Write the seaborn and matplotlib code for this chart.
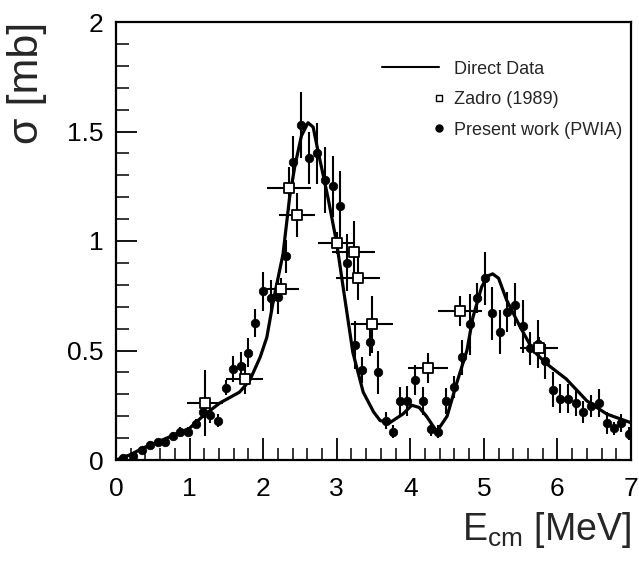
import numpy as np
import pandas as pd
import matplotlib
matplotlib.use("Agg")
import matplotlib.pyplot as plt
import seaborn as sns
from matplotlib.legend_handler import HandlerLine2DCompound
from matplotlib.lines import Line2D
from matplotlib.ticker import MultipleLocator, FuncFormatter

# ---- Data ----
direct_x = [0.0, 0.2, 0.37, 0.69, 1.0, 1.18, 1.41, 1.68, 1.82, 1.96, 2.05, 2.14, 2.27, 2.36, 2.43,
            2.52, 2.61, 2.68, 2.74, 2.88, 3.0, 3.1, 3.22, 3.36, 3.5, 3.59, 3.72, 3.9, 4.02, 4.12,
            4.22, 4.36, 4.5, 4.63, 4.77, 4.85, 4.97, 5.05, 5.12, 5.2, 5.31, 5.49, 5.67, 5.85,
            6.12, 6.4, 6.67, 7.0]
direct_y = [0.0, 0.025, 0.055, 0.10, 0.145, 0.20, 0.26, 0.31, 0.365, 0.47, 0.56, 0.73, 0.94, 1.20, 1.34,
            1.48, 1.54, 1.52, 1.42, 1.20, 0.99, 0.76, 0.49, 0.31, 0.22, 0.18, 0.17, 0.21, 0.25, 0.24,
            0.20, 0.13, 0.20, 0.35, 0.50, 0.65, 0.79, 0.84, 0.85, 0.83, 0.73, 0.61, 0.50, 0.44,
            0.37, 0.27, 0.21, 0.17]

zadro_x = [1.21, 1.75, 2.24, 2.35, 2.46, 3.0, 3.23, 3.29, 3.48, 4.24, 4.67, 5.75]
zadro_y = [0.26, 0.37, 0.78, 1.24, 1.12, 0.99, 0.95, 0.83, 0.62, 0.42, 0.68, 0.51]
zadro_xerr = [0.24, 0.25, 0.25, 0.30, 0.24, 0.25, 0.29, 0.30, 0.28, 0.27, 0.30, 0.26]
zadro_yerr = [0.15, 0.07, 0.05, 0.10, 0.10, 0.05, 0.14, 0.10, 0.13, 0.07, 0.07, 0.05]

pwia_x = [0.10, 0.23, 0.35, 0.46, 0.57, 0.67, 0.78, 0.87, 0.98, 1.09, 1.18, 1.28, 1.39, 1.49,
          1.59, 1.70, 1.79, 1.89, 2.00, 2.10, 2.20, 2.31, 2.41, 2.52, 2.62, 2.73, 2.84, 2.95,
          3.04, 3.14, 3.25, 3.35, 3.45, 3.56, 3.67, 3.76, 3.86, 3.95, 4.07, 4.17, 4.28, 4.37,
          4.48, 4.60, 4.70, 4.81, 4.91, 5.01, 5.11, 5.22, 5.31, 5.42, 5.53, 5.63, 5.73, 5.83,
          5.94, 6.03, 6.14, 6.25, 6.35, 6.45, 6.56, 6.67, 6.77, 6.87, 6.97]
pwia_y = [0.01, 0.02, 0.045, 0.07, 0.08, 0.08, 0.11, 0.13, 0.13, 0.165, 0.22, 0.205, 0.18, 0.33,
          0.415, 0.43, 0.49, 0.625, 0.77, 0.74, 0.745, 0.93, 1.36, 1.53, 1.38, 1.40, 1.28, 1.25,
          1.16, 0.90, 0.525, 0.41, 0.54, 0.40, 0.18, 0.13, 0.27, 0.27, 0.365, 0.27, 0.14, 0.13,
          0.27, 0.335, 0.47, 0.62, 0.74, 0.83, 0.67, 0.585, 0.675, 0.71, 0.61, 0.51, 0.53, 0.45,
          0.32, 0.28, 0.28, 0.26, 0.22, 0.245, 0.26, 0.17, 0.145, 0.17, 0.12]
pwia_yerr = [0.01, 0.01, 0.015, 0.015, 0.015, 0.015, 0.02, 0.02, 0.02, 0.02, 0.03, 0.035, 0.03, 0.035,
             0.06, 0.065, 0.065, 0.065, 0.09, 0.08, 0.08, 0.075, 0.12, 0.15, 0.12, 0.14, 0.15, 0.14,
             0.16, 0.13, 0.11, 0.06, 0.065, 0.10, 0.04, 0.03, 0.065, 0.07, 0.07, 0.065, 0.03, 0.03,
             0.06, 0.05, 0.08, 0.14, 0.07, 0.12, 0.12, 0.10, 0.09, 0.10, 0.12, 0.075, 0.11, 0.08,
             0.08, 0.065, 0.065, 0.06, 0.05, 0.05, 0.065, 0.05, 0.03, 0.04, 0.03]

labels = ["Direct Data", "Zadro (1989)", "Present work (PWIA)"]

# ---- Style ----
sns.set_theme(style="ticks")
plt.rcParams['font.family'] = ['Liberation Sans', 'DejaVu Sans']
plt.rcParams['mathtext.fontset'] = 'custom'
plt.rcParams['mathtext.rm'] = 'Liberation Sans'
plt.rcParams['mathtext.it'] = 'Liberation Sans'

fig = plt.figure(figsize=(6.39, 5.61), dpi=100)
ax = fig.add_axes([116/639, 1 - 460/561, (631-116)/639, (460-22)/561])

direct_df = pd.DataFrame({"x": direct_x, "y": direct_y})
sns.lineplot(data=direct_df, x="x", y="y", ax=ax, color="black", lw=2.3, sort=False,
             estimator=None, label=labels[0], legend=False)

ax.errorbar(zadro_x, zadro_y, xerr=zadro_xerr, yerr=zadro_yerr, fmt='none',
            ecolor='black', elinewidth=1.5, capsize=0, zorder=3)
ax.errorbar(pwia_x, pwia_y, yerr=pwia_yerr, fmt='none',
            ecolor='black', elinewidth=1.5, capsize=0, zorder=3)

sns.scatterplot(x=zadro_x, y=zadro_y, ax=ax, marker='s', s=55, facecolor='white',
                edgecolor='black', linewidth=1.3, zorder=5)
sns.scatterplot(x=pwia_x, y=pwia_y, ax=ax, marker='o', s=38, color='black',
                edgecolor='black', linewidth=0.5, zorder=4)

ax.set_xlim(0, 7)
ax.set_ylim(0, 2)

ax.xaxis.set_major_locator(MultipleLocator(1))
ax.xaxis.set_minor_locator(MultipleLocator(0.2))
ax.yaxis.set_major_locator(MultipleLocator(0.5))
ax.yaxis.set_minor_locator(MultipleLocator(0.1))
ax.yaxis.set_major_formatter(FuncFormatter(lambda v, p: f"{v:g}"))
ax.xaxis.set_major_formatter(FuncFormatter(lambda v, p: f"{v:g}"))

ax.tick_params(axis='both', which='both', direction='in', top=False, right=False,
               colors='black', labelsize=19)
ax.tick_params(axis='x', which='major', length=16, width=1.3, pad=12)
ax.tick_params(axis='x', which='minor', length=9, width=1.1)
ax.tick_params(axis='y', which='major', length=15, width=1.3, pad=9)
ax.tick_params(axis='y', which='minor', length=9, width=1.1)

for sp in ax.spines.values():
    sp.set_visible(True)
    sp.set_linewidth(1.6)
    sp.set_color('black')

ax.set_xlabel(r"E$_{\rm cm}$ [MeV]", fontsize=27, loc='right')
ax.xaxis.set_label_coords(1.0, -0.115)
ax.set_ylabel("σ [mb]", fontsize=31, loc='top')
ax.yaxis.set_label_coords(-0.134, 1.0)


class RightMarker(HandlerLine2DCompound):
    def get_xdata(self, legend, xdescent, ydescent, width, height, fontsize):
        xdata = np.array([-xdescent, -xdescent + width])
        xmark = np.array([-xdescent + width])
        return xdata, xmark


h_line = Line2D([], [], color='black', lw=1.5)
h_sq = Line2D([], [], color='black', ls='none', marker='s', markersize=5,
              markerfacecolor='white', markeredgewidth=1.0)
h_dot = Line2D([], [], color='black', ls='none', marker='o', markersize=5)
leg = ax.legend([h_line, h_sq, h_dot], labels, loc='upper left',
                bbox_to_anchor=(0.516, 0.912), frameon=False, fontsize=13,
                handlelength=3.15, handletextpad=0.85, labelspacing=0.75,
                borderpad=0, borderaxespad=0,
                handler_map={h_sq: RightMarker(numpoints=1), h_dot: RightMarker(numpoints=1)})

fig.savefig("out.png", dpi=100, facecolor='white')
